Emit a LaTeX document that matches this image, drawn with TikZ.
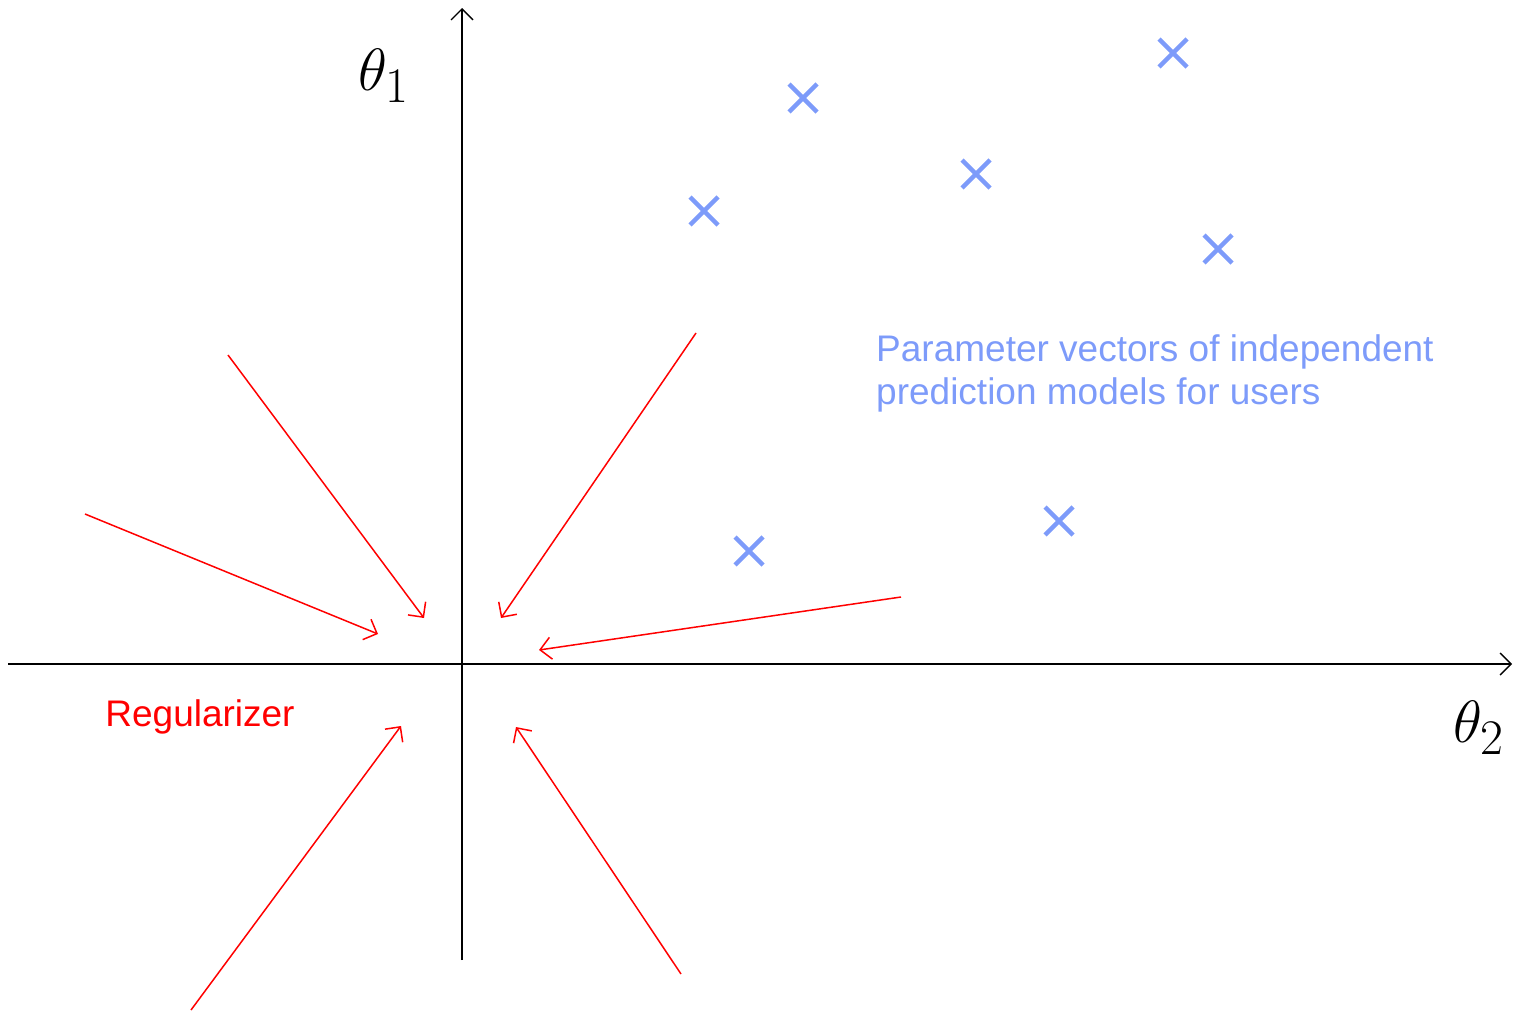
\documentclass[tikz,border=0pt]{standalone}
\usepackage{fontspec}
\setmainfont{Liberation Sans}
\usetikzlibrary{shapes.misc,arrows.meta}
\definecolor{userblue}{RGB}{125,155,250}
\definecolor{regred}{RGB}{255,0,0}

\begin{document}
\begin{tikzpicture}[x=1pt, y=-1pt,
			usercross/.style={draw=userblue, cross out, line width=4.5pt, minimum size=28pt, inner sep=0pt, outer sep=0pt},
			pull/.style={draw=regred, line width=1.5pt, -{Straight Barb[length=11pt,width=22pt]}},
			axlabel/.style={font=\Huge, scale=2.4, inner sep=0pt},
			>={Straight Barb[length=11pt,width=22pt]}, %Pfeilspitzen
			font=\fontsize{37}{43}\selectfont]
			\useasboundingbox (0,0) rectangle (1514,1012);
			% Achsen zeichnen
			\coordinate (xl) at (8,664);
			\coordinate (xr) at (1512,664);
			\coordinate (yb) at (462,960);
			\coordinate (yt) at (462,8);
			\draw[->,line width=1.4pt] (xl) -- (xr);
			\draw[->,line width=1.4pt] (yb) -- (yt);
			% Achsen beschriften
			\node[axlabel] (theta1) at (384,76) {$\theta_1$};
			\node[axlabel] (theta2) at (1479,728) {$\theta_2$};
			% Parametervektoren der Nutzer
			\foreach \x/\y [count=\i] in {803/98,1173/53,976/174,704/211,1218/249,1059/521,749/551}{\node[usercross] (u\i) at (\x,\y) {};}
			\node[userblue, align=left, anchor=north west, inner sep=0pt] (params) at (876,334) {Parameter vectors of independent\\prediction models for users};
			% Regularisierer zieht zum Ursprung
			\foreach \xa/\ya/\xb/\yb [count=\i] in {228/355/424/618, 85/514/378/634, 696/333/501/618, 901/597/539/650, 191/1010/401/726, 681/974/516/727}{
				\coordinate (s\i) at (\xa,\ya);
				\coordinate (e\i) at (\xb,\yb);
				\draw[pull] (s\i) -- (e\i);}
			\node[regred] (reg) at (200,717) {Regularizer};
		\end{tikzpicture}
\end{document}
